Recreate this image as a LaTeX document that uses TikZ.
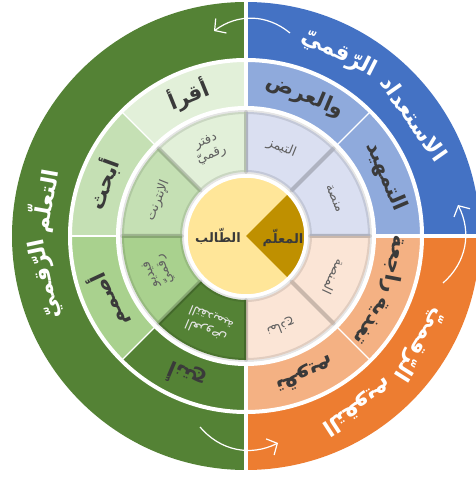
\documentclass[tikz,border=0pt]{standalone}
\usepackage{fontspec}
\newfontfamily\ar[Script=Arabic]{DejaVu Sans}
\TeXXeTstate=1
\usetikzlibrary{arrows.meta}

\definecolor{blueA}{HTML}{4472C4}
\definecolor{blueB}{HTML}{8FAADC}
\definecolor{blueC}{HTML}{DADFF1}
\definecolor{orangeA}{HTML}{ED7D31}
\definecolor{orangeB}{HTML}{F4B183}
\definecolor{orangeC}{HTML}{FBE5D6}
\definecolor{greenA}{HTML}{548235}
\definecolor{greenB}{HTML}{A9D18E}
\definecolor{greenC}{HTML}{C5E0B4}
\definecolor{greenD}{HTML}{E2F0D9}
\definecolor{coreY}{HTML}{FFE699}
\definecolor{coreG}{HTML}{BF9000}
\definecolor{txtdark}{HTML}{3A3A3A}
\definecolor{txtgray}{HTML}{606060}

% annular sector: colour, start angle, end angle, outer radius, inner radius
\newcommand{\ringpart}[5]{%
  \fill[#1] (#2:#4pt) arc[start angle=#2,end angle=#3,radius=#4pt]
    -- (#3:#5pt) arc[start angle=#3,end angle=#2,radius=#5pt] -- cycle;}
\newcommand{\ringedge}[4]{%
  \draw[segedge] (#1:#3pt) arc[start angle=#1,end angle=#2,radius=#3pt]
    -- (#2:#4pt) arc[start angle=#2,end angle=#1,radius=#4pt] -- cycle;}
\newcommand{\rl}[1]{\beginR#1\endR}

\begin{document}
\begin{tikzpicture}[x=1pt,y=1pt,
  segedge/.style={draw=black,draw opacity=0.10,line width=4pt,line join=round},
  gap/.style={draw=white,line width=4pt},
  thingap/.style={draw=white,line width=1.4pt},
  outertxt/.style={font=\ar\bfseries\fontsize{22}{25}\selectfont,text=white,inner sep=0pt},
  midtxt/.style={font=\ar\bfseries\fontsize{21}{24}\selectfont,text=txtdark,inner sep=0pt},
  innertxt/.style={font=\ar\fontsize{13}{15}\selectfont,text=txtgray,inner sep=0pt,align=center},
  coretxt/.style={font=\ar\bfseries\fontsize{13}{15}\selectfont,text=txtdark,inner sep=0pt},
  cycarrow/.style={draw=white,line width=1.2pt,-{Straight Barb[length=8pt,width=18pt]}},
]
\useasboundingbox (0,0) rectangle (476,479);
\clip (0,0) rectangle (476,479);
\fill[white] (0,0) rectangle (476,479);

\begin{scope}[shift={(246,243)}]
  % outer ring
  \ringpart{greenA}{90}{270}{234}{176}
  \ringpart{blueA}{0}{90}{234}{176}
  \ringpart{orangeA}{-90}{0}{234}{176}
  % middle ring
  \ringpart{blueB}{0}{90}{176}{128}
  \ringpart{orangeB}{-90}{0}{176}{128}
  \ringpart{greenD}{90}{135}{176}{128}
  \ringpart{greenC}{135}{180}{176}{128}
  \ringpart{greenB}{180}{225}{176}{128}
  \ringpart{greenA}{225}{270}{176}{128}
  % inner ring
  \ringpart{blueC}{0}{90}{124}{64}
  \ringpart{orangeC}{-90}{0}{124}{64}
  \ringpart{greenD}{90}{135}{124}{64}
  \ringpart{greenC}{135}{180}{124}{64}
  \ringpart{greenB}{180}{225}{124}{64}
  \ringpart{greenA}{225}{270}{124}{64}
  \foreach \a in {0,45,90,135,180,225,270,315}
    \ringedge{\a}{\a+45}{124}{64};
  % white gaps
  \draw[gap] (0,0) circle[radius=176pt];
  \draw[gap] (0,0) circle[radius=128pt];
  \draw[gap] (90:128pt) -- (90:240pt);
  \draw[gap] (270:128pt) -- (270:240pt);
  \draw[gap] (0:128pt) -- (0:240pt);
  \foreach \a in {45,-45,135,180,225}
    \draw[thingap] (\a:128pt) -- (\a:176pt);
  % core
  \fill[coreY] (0,0) circle[radius=60pt];
  \fill[coreG] (0,0) -- (-45:60pt) arc[start angle=-45,end angle=45,radius=60pt] -- cycle;
  \draw[white,line width=3.5pt] (0,0) circle[radius=60pt];

  % outer ring labels
  \node[outertxt,rotate=-55] (o1) at (35:205pt) {\rl{الاستعداد}};
  \node[outertxt,rotate=-27] (o2) at (63:205pt) {\rl{الرّقميّ}};
  \node[outertxt,rotate=80] (o3) at (170:205pt) {\rl{التعلّم}};
  \node[outertxt,rotate=102] (o4) at (192:205pt) {\rl{الرّقميّ}};
  \node[outertxt,rotate=-147] (o5) at (-57:205pt) {\rl{التقويم}};
  \node[outertxt,rotate=-122] (o6) at (-32:205pt) {\rl{الرّقميّ}};

  % middle ring labels
  \node[midtxt,rotate=-67] (m1) at (23:152pt) {\rl{التمهيد}};
  \node[midtxt,rotate=-23] (m2) at (67:152pt) {\rl{والعرض}};
  \node[midtxt,rotate=-124] (m3) at (-34:151pt) {\rl{تغذية}};
  \node[midtxt,rotate=-101] (m4) at (-11:151pt) {\rl{راجعة}};
  \node[midtxt,rotate=-157] (m5) at (-67:151pt) {\rl{تقويم}};
  \node[midtxt,rotate=22] (m6) at (112:152pt) {\rl{أقرأ}};
  \node[midtxt,rotate=70] (m7) at (160:152pt) {\rl{أبحث}};
  \node[midtxt,rotate=115] (m8) at (205:152pt) {\rl{أصمم}};
  \node[midtxt,rotate=157] (m9) at (247:152pt) {\rl{أنتج}};

  % inner ring labels
  \node[innertxt,rotate=-67] (i1) at (23:96pt) {\rl{منصة}};
  \node[innertxt,rotate=-22] (i2) at (68:95pt) {\rl{التيمز}};
  \node[innertxt,rotate=-115] (i3) at (-25:97pt) {\rl{المنصة}};
  \node[innertxt,rotate=-159] (i4) at (-69:97pt) {\rl{نماذج}};
  \node[innertxt,rotate=23] (i5) at (113:95pt) {\rl{دفتر}\\\rl{رقميّ}};
  \node[innertxt,rotate=68] (i6) at (158:95pt) {\rl{الإنترنت}};
  \node[innertxt,rotate=112] (i7) at (202:95pt) {\rl{فيديو}\\\rl{رقميّ}};
  \node[innertxt,rotate=157,text=white!90!black] (i8) at (247:96pt) {\rl{العروض}\\\rl{التقديمية}};

  % core labels
  \node[coretxt] (student) at (-28,0) {\rl{الطّالب}};
  \node[coretxt] (teacher) at (37,-2) {\rl{المعلّم}};
\end{scope}

% cycle arrows across the quadrant borders
\coordinate (ta) at (290,446);
\coordinate (tb) at (214,448);
\coordinate (ra) at (443,196);
\coordinate (rb) at (458,274);
\coordinate (ba) at (200,52);
\coordinate (bb) at (278,36);
\draw[cycarrow] (ta) to[bend right=38] (tb);
\draw[cycarrow] (ra) to[bend right=38] (rb);
\draw[cycarrow] (ba) to[bend right=38] (bb);
\end{tikzpicture}
\end{document}
